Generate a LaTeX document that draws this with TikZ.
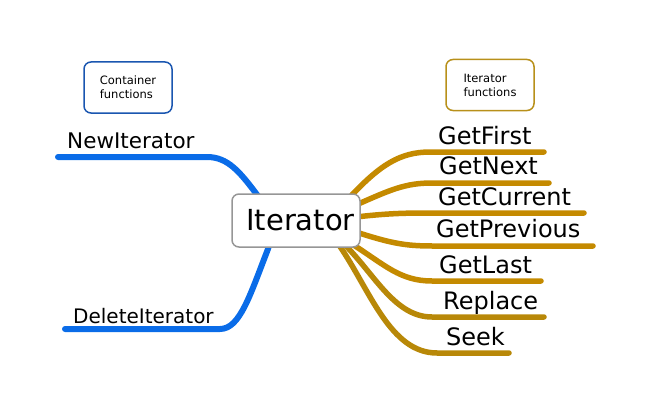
\documentclass[tikz,border=0pt]{standalone}
\usepackage{fontspec}
\setmainfont{DejaVu Sans}
\usetikzlibrary{backgrounds}
\definecolor{branchblue}{RGB}{10,108,232}
\definecolor{boxblue}{RGB}{26,86,176}
\definecolor{branchgold}{RGB}{196,138,0}
\definecolor{branchgoldB}{RGB}{184,136,8}
\definecolor{boxgold}{RGB}{184,144,26}
\definecolor{centergray}{RGB}{150,150,150}
\tikzset{
  centerbox/.style={draw=centergray, line width=1.5pt, rounded corners=7pt, fill=white,
    minimum width=128pt, minimum height=53pt, inner sep=0pt,
    font=\fontsize{29}{34}\selectfont},
  legendbox/.style={line width=1.5pt, rounded corners=7pt, fill=white,
    minimum width=88pt, minimum height=51pt, inner sep=0pt, align=left,
    font=\fontsize{11.5}{14}\selectfont},
  leftlabel/.style={anchor=base west, inner sep=0pt},
  rightlabel/.style={anchor=base west, inner sep=0pt, font=\fontsize{24}{28}\selectfont},
  bluebranch/.style={draw=branchblue, line width=6pt, line cap=round},
  goldbranch/.style={draw=branchgold, line width=5.5pt, line cap=round},
  goldbranchB/.style={draw=branchgoldB, line width=5.5pt, line cap=round},
}
\begin{document}
\begin{tikzpicture}[x=1pt,y=-1pt]
\useasboundingbox (0,0) rectangle (651,412);

% legend boxes
\node[legendbox, draw=boxblue] (cont) at (128,87.5) {Container\\functions};
\node[legendbox, draw=boxgold] (itf) at (490,85) {Iterator\\functions};

% central node
\node[centerbox] (it) at (296,220.5) {\hspace*{9pt}Iterator};

% labels
\node[leftlabel, font=\fontsize{21.5}{26}\selectfont] (ni) at (67,148) {NewIterator};
\node[leftlabel, font=\fontsize{20}{24}\selectfont] (di) at (73,323) {DeleteIterator};
\node[rightlabel] (gf) at (438,144) {GetFirst};
\node[rightlabel] (gn) at (439,174) {GetNext};
\node[rightlabel] (gc) at (438,205) {GetCurrent};
\node[rightlabel] (gp) at (436,237) {GetPrevious};
\node[rightlabel] (gl) at (439,273) {GetLast};
\node[rightlabel] (rp) at (443,309) {Replace};
\node[rightlabel] (sk) at (446,345) {Seek};

% line end points
\coordinate (niE) at (58,157);
\coordinate (diE) at (65,329);
\coordinate (gfE) at (544,152);
\coordinate (gnE) at (549,183);
\coordinate (gcE) at (584,213);
\coordinate (gpE) at (593,246);
\coordinate (glE) at (541,281);
\coordinate (rpE) at (544,317);
\coordinate (skE) at (509,353);

\begin{pgfonlayer}{background}
% left branches
\draw[bluebranch] (niE) -- (207,157) .. controls (228,157) and (240,172) .. (258,196) -- (262,202);
\draw[bluebranch] (diE) -- (220,329) .. controls (240,329) and (250,295) .. (268,249) -- (270,243);
% right branches
\draw[goldbranch] (350,197) .. controls (380,165) and (400,152) .. (430,152) -- (gfE);
\draw[goldbranch] (356,205) .. controls (390,190) and (405,183) .. (432,183) -- (gnE);
\draw[goldbranch] (356,217) .. controls (390,213) and (410,213) .. (432,213) -- (gcE);
\draw[goldbranch] (356,232) .. controls (390,243) and (405,246) .. (432,246) -- (gpE);
\draw[goldbranch] (352,244) .. controls (385,265) and (400,281) .. (432,281) -- (glE);
\draw[goldbranchB] (345,245) .. controls (375,275) and (395,317) .. (432,317) -- (rpE);
\draw[goldbranchB] (339,245) .. controls (370,290) and (390,353) .. (437,353) -- (skE);
\end{pgfonlayer}
\end{tikzpicture}
\end{document}
